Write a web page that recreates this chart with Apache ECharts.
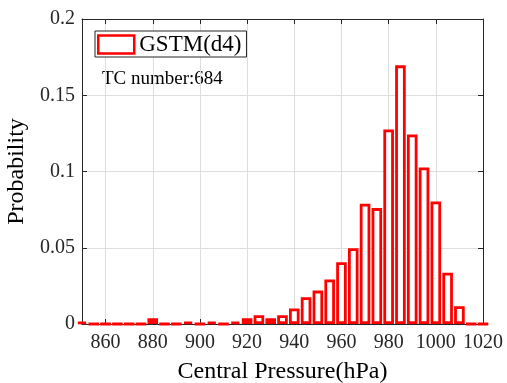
<!DOCTYPE html>
<html>
<head>
<meta charset="utf-8">
<script src="https://cdn.jsdelivr.net/npm/echarts@6/dist/echarts.min.js"></script>
<style>
html, body { margin: 0; padding: 0; background: #fff; }
#main { width: 507px; height: 383px; }
</style>
</head>
<body>
<div id="main"></div>
<script>
// bin centres (hPa)
var pressure = [850, 855, 860, 865, 870, 875, 880, 885, 890, 895, 900, 905, 910, 915,
    920, 925, 930, 935, 940, 945, 950, 955, 960, 965, 970, 975, 980, 985, 990, 995,
    1000, 1005, 1010, 1015, 1020];
// probability per bin
var probability = [0.0015, 0, 0, 0, 0, 0, 0.0037, 0, 0, 0.0015, 0, 0.0015, 0, 0.0015,
    0.0037, 0.0058, 0.0037, 0.0058, 0.0102, 0.0175, 0.0219, 0.0292, 0.0405, 0.0497,
    0.0789, 0.0760, 0.1276, 0.1696, 0.1243, 0.1027, 0.0804, 0.0336, 0.0117, 0, 0];
var xTicks = [860, 880, 900, 920, 940, 960, 980, 1000, 1020];
var seriesName = 'GSTM(d4)';
var tcNumber = 684;

var font = 'Liberation Serif';
var axisColor = '#262626';

function gen_data(){
    var data = [];
    for (var i = 0; i < pressure.length; i++) {
        data.push([pressure[i], probability[i]]);
    }
    return data;
}

var chart = echarts.init(document.getElementById('main'));
var option = {
    animation: false,
    backgroundColor: '#fff',
    textStyle: { fontFamily: font },
    grid: { left: 82, top: 19, right: 24, bottom: 59, outerBoundsMode: 'none', containLabel: false },
    legend: {
        left: 95, top: 31,
        padding: [2, 5, 1, 2],
        borderColor: axisColor, borderWidth: 1,
        backgroundColor: '#fff',
        icon: 'rect',
        itemWidth: 36, itemHeight: 18,
        itemGap: 5,
        itemStyle: { color: '#fff', borderColor: '#ff0000', borderWidth: 2.5 },
        textStyle: { fontFamily: font, fontSize: 23, color: '#000' },
        data: [seriesName]
    },
    graphic: [{
        type: 'text', left: 102, top: 70,
        style: { text: 'TC number:' + tcNumber, font: '19px "Liberation Serif"', fill: '#000' }
    }],
    xAxis: [{
        type: 'value', min: 850, max: 1020,
        name: 'Central Pressure(hPa)', nameLocation: 'middle', nameGap: 36,
        nameTextStyle: { fontFamily: font, fontSize: 24, color: '#000' },
        axisLine: { show: true, onZero: false, lineStyle: { color: axisColor, width: 1 } },
        axisTick: { show: true, inside: true, length: 5, customValues: xTicks, lineStyle: { color: axisColor } },
        axisLabel: {
            customValues: xTicks, fontFamily: font, fontSize: 20, color: '#262626', margin: 9,
            formatter: function (v) { return String(v); }
        },
        splitLine: { show: true, lineStyle: { color: '#dedede', width: 1 } }
    }, {
        type: 'value', min: 850, max: 1020, position: 'top',
        axisLine: { show: true, onZero: false, lineStyle: { color: axisColor, width: 1 } },
        axisTick: { show: true, inside: true, length: 5, customValues: xTicks, lineStyle: { color: axisColor } },
        axisLabel: { show: false },
        splitLine: { show: false }
    }],
    yAxis: [{
        type: 'value', min: 0, max: 0.2, interval: 0.05,
        name: 'Probability', nameLocation: 'middle', nameGap: 48,
        nameTextStyle: { fontFamily: font, fontSize: 24, color: '#000' },
        axisLine: { show: true, lineStyle: { color: axisColor, width: 1 } },
        axisTick: { show: true, inside: true, length: 5, lineStyle: { color: axisColor } },
        axisLabel: { fontFamily: font, fontSize: 20, color: '#262626', margin: 7 },
        splitLine: { show: true, lineStyle: { color: '#dedede', width: 1 } }
    }, {
        type: 'value', min: 0, max: 0.2, interval: 0.05, position: 'right',
        axisLine: { show: true, lineStyle: { color: axisColor, width: 1 } },
        axisTick: { show: true, inside: true, length: 5, lineStyle: { color: axisColor } },
        axisLabel: { show: false },
        splitLine: { show: false }
    }],
    series: [{
        name: seriesName,
        type: 'bar',
        xAxisIndex: 0, yAxisIndex: 0,
        barWidth: 10.6,
        barCategoryGap: '0%',
        clip: true,
        itemStyle: { color: '#fff', borderColor: '#ff0000', borderWidth: 2.8 },
        data: gen_data()
    }]
};
chart.setOption(option);
</script>
</body>
</html>
